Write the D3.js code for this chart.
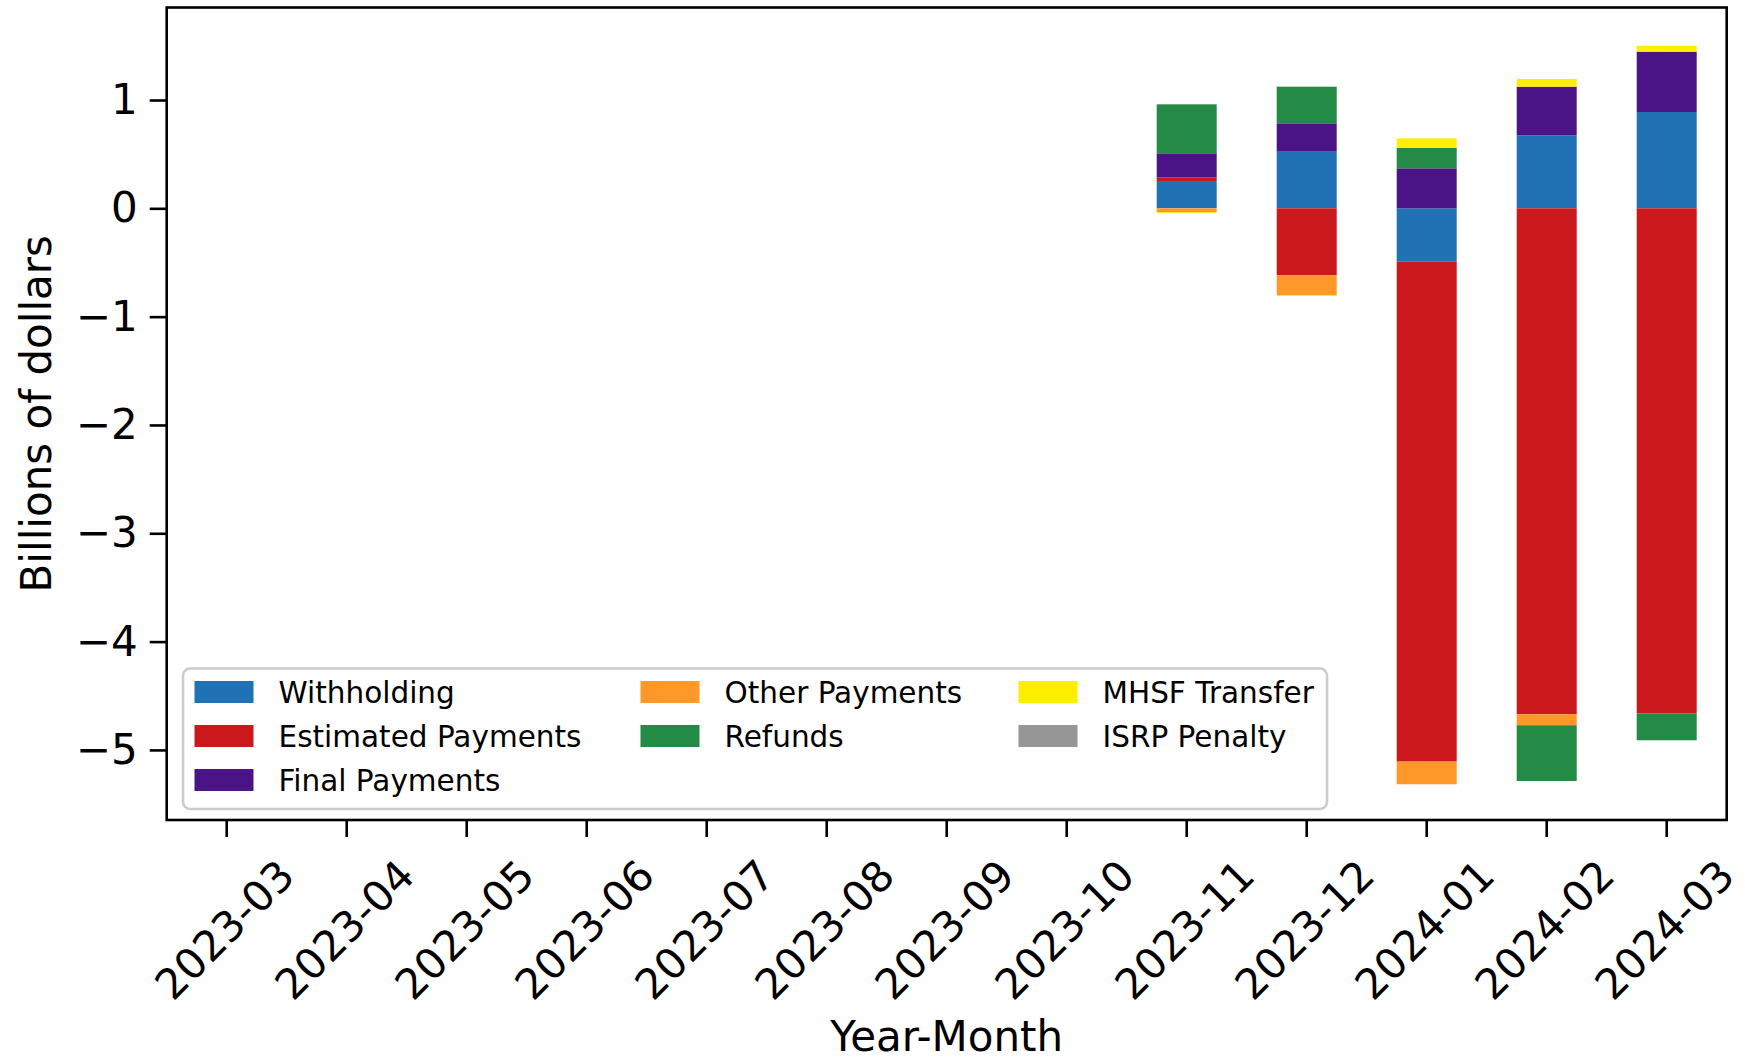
<!DOCTYPE html>
<html>
<head>
<meta charset="utf-8">
<script src="https://cdn.jsdelivr.net/npm/d3@7"></script>
<style>
  html, body { margin: 0; padding: 0; background: #fff; }
  svg { display: block; font-family: "DejaVu Sans", sans-serif; }
</style>
</head>
<body>
<svg id="chart" width="1745" height="1063"></svg>
<script>
// ---- Data ----
const months = ["2023-03","2023-04","2023-05","2023-06","2023-07","2023-08","2023-09",
                "2023-10","2023-11","2023-12","2024-01","2024-02","2024-03"];
const seriesNames = ["Withholding","Estimated Payments","Final Payments","Other Payments",
                     "Refunds","MHSF Transfer","ISRP Penalty"];
const withholding       = [0,0,0,0,0,0,0,0, 0.252,  0.523, -0.493,  0.674,  0.889];
const estimatedPayments = [0,0,0,0,0,0,0,0, 0.034, -0.616, -4.615, -4.671, -4.662];
const finalPayments     = [0,0,0,0,0,0,0,0, 0.222,  0.262,  0.369,  0.449,  0.557];
const otherPayments     = [0,0,0,0,0,0,0,0,-0.037, -0.184, -0.209, -0.101,  0.000];
const refunds           = [0,0,0,0,0,0,0,0, 0.452,  0.338,  0.190, -0.515, -0.249];
const mhsfTransfer      = [0,0,0,0,0,0,0,0,-0.008, -0.010,  0.087,  0.071,  0.055];
const isrpPenalty       = [0,0,0,0,0,0,0,0, 0.000,  0.000,  0.000,  0.000,  0.000];
const yTicks = [-5,-4,-3,-2,-1,0,1];
const colors = ["#2171b5","#cb181d","#4a1486","#fe9929","#238b45","#ffee00","#969696"];
// legend columns (matplotlib ncol=3 fills columns 3,2,2)
const legendColumns = [[0,1,2],[3,4],[5,6]];

const seriesValues = [withholding, estimatedPayments, finalPayments, otherPayments,
                      refunds, mhsfTransfer, isrpPenalty];

// ---- Layout ----
const L = 166.7, R = 1726.7, T = 7.5, B = 820;
const svg = d3.select("#chart");

const x = d3.scaleBand().domain(months).range([L, R]).paddingInner(0.5).paddingOuter(0.25);
const y = d3.scaleLinear().domain([-5.647, 1.854]).range([B, T]);

// ---- Stacked bars (pandas style: positives up, negatives down) ----
const rects = [];
months.forEach((m, i) => {
  let pos = 0, neg = 0;
  seriesValues.forEach((vals, s) => {
    const v = vals[i];
    if (!v) return;
    let y0, y1;
    if (v >= 0) { y0 = pos; y1 = pos + v; pos = y1; }
    else { y0 = neg; y1 = neg + v; neg = y1; }
    rects.push({ m, s, y0, y1 });
  });
});
svg.append("g").selectAll("rect").data(rects).join("rect")
  .attr("x", d => x(d.m))
  .attr("width", x.bandwidth())
  .attr("y", d => y(Math.max(d.y0, d.y1)))
  .attr("height", d => Math.abs(y(d.y0) - y(d.y1)))
  .attr("fill", d => colors[d.s]);

// ---- Axes ----
const fmt = d3.format("d");
const yAxis = svg.append("g").attr("transform", `translate(${L},0)`)
  .call(d3.axisLeft(y).tickValues(yTicks).tickFormat(fmt).tickSize(17).tickPadding(12));
yAxis.select(".domain").remove();
yAxis.selectAll(".tick line").attr("stroke", "#000").attr("stroke-width", 2.6);
yAxis.selectAll(".tick text").attr("font-size", 42).attr("fill", "#000")
  .attr("font-family", "DejaVu Sans");

const xAxis = svg.append("g").attr("transform", `translate(0,${B})`)
  .call(d3.axisBottom(x).tickSize(17).tickPadding(0));
xAxis.select(".domain").remove();
xAxis.selectAll(".tick line").attr("stroke", "#000").attr("stroke-width", 2.6);
xAxis.selectAll(".tick text")
  .attr("font-size", 42).attr("fill", "#000").attr("font-family", "DejaVu Sans")
  .attr("text-anchor", "middle").attr("dy", null)
  .attr("dominant-baseline", "central")
  .attr("y", 0)
  .attr("transform", "translate(-2,110) rotate(-45)");

// frame
svg.append("rect").attr("x", L).attr("y", T).attr("width", R - L).attr("height", B - T)
  .attr("fill", "none").attr("stroke", "#000").attr("stroke-width", 2.6);

// axis labels
svg.append("text").attr("x", (L + R) / 2).attr("y", 1051)
  .attr("text-anchor", "middle").attr("font-size", 42).attr("fill", "#000")
  .text("Year-Month");
svg.append("text").attr("transform", `translate(51,${(T + B) / 2}) rotate(-90)`)
  .attr("text-anchor", "middle").attr("font-size", 42).attr("fill", "#000")
  .text("Billions of dollars");

// ---- Legend ----
const lg = svg.append("g");
lg.append("rect").attr("x", 183).attr("y", 668.5).attr("width", 1144).attr("height", 140.5)
  .attr("rx", 7).attr("fill", "#fff").attr("fill-opacity", 0.8)
  .attr("stroke", "#cccccc").attr("stroke-width", 2.6);
const colX = [194.5, 640.5, 1018.5];
const rowY = [692, 736, 780];
legendColumns.forEach((col, c) => {
  col.forEach((i, r) => {
    const g = lg.append("g");
    g.append("rect").attr("x", colX[c]).attr("y", rowY[r] - 11).attr("width", 59).attr("height", 22)
      .attr("fill", colors[i]);
    g.append("text").attr("x", colX[c] + 84).attr("y", rowY[r]).attr("dy", "0.36em")
      .attr("font-size", 29.5).attr("fill", "#000").text(seriesNames[i]);
  });
});
</script>
</body>
</html>
